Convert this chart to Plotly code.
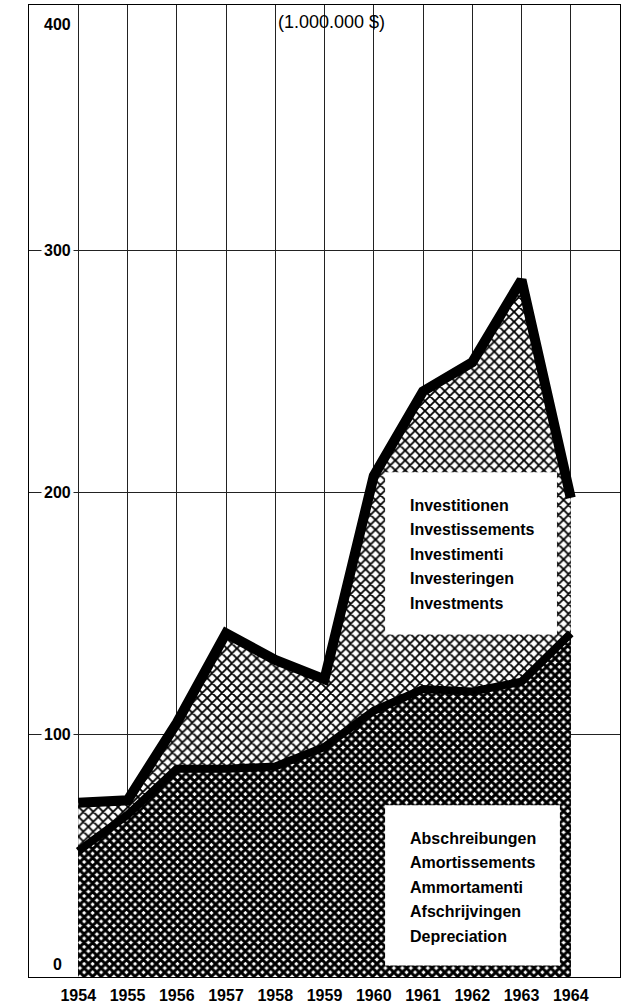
import plotly.graph_objects as go

years = [1954, 1955, 1956, 1957, 1958, 1959, 1960, 1961, 1962, 1963, 1964]
investments = [72, 73, 105, 142, 131, 123, 207, 242, 254, 288, 198]
depreciation = [52, 67, 86, 86, 87, 95, 110, 119, 118, 122, 142]

y_tick_values = [0, 100, 200, 300, 400]
y_tick_labels = ["0", "100", "200", "300", "400"]
x_tick_labels = [str(y) for y in years]

title_text = "(1.000.000 $)"
inv_labels = ["Investitionen", "Investissements", "Investimenti", "Investeringen", "Investments"]
dep_labels = ["Abschreibungen", "Amortissements", "Ammortamenti", "Afschrijvingen", "Depreciation"]

FONT = "Liberation Sans, Arial, sans-serif"

fig = go.Figure()

# depreciation area
fig.add_trace(go.Scatter(
    x=years, y=depreciation, mode="lines", line=dict(width=0, color="black"),
    fill="tozeroy", fillcolor="black",
    fillpattern=dict(shape="x", fgcolor="black", bgcolor="white", fgopacity=1,
                     size=6, solidity=0.75),
    hoverinfo="skip", showlegend=False))
# investments area (between the two lines)
fig.add_trace(go.Scatter(
    x=years, y=investments, mode="lines", line=dict(width=0, color="black"),
    fill="tonexty", fillcolor="black",
    fillpattern=dict(shape="x", fgcolor="black", bgcolor="white", fgopacity=1,
                     size=7, solidity=0.45),
    hoverinfo="skip", showlegend=False))
# thick lines
fig.add_trace(go.Scatter(x=years, y=depreciation, mode="lines",
                         line=dict(width=8, color="black"), hoverinfo="skip", showlegend=False))
fig.add_trace(go.Scatter(x=years, y=investments, mode="lines",
                         line=dict(width=10, color="black"), hoverinfo="skip", showlegend=False))

# white label boxes
fig.add_shape(type="rect", xref="x", yref="y", x0=1960.23, x1=1963.72, y0=141.5, y1=208.5,
              fillcolor="white", line=dict(width=0), layer="above")
fig.add_shape(type="rect", xref="x", yref="y", x0=1960.23, x1=1963.78, y0=4.8, y1=71,
              fillcolor="white", line=dict(width=0), layer="above")

step = 10.12
for i, t in enumerate(inv_labels):
    fig.add_annotation(x=1960.70, y=195 - i * step, xref="x", yref="y", text=t,
                       showarrow=False, xanchor="left", yanchor="middle",
                       font=dict(family=FONT, size=16, color="black", weight="bold"))
for i, t in enumerate(dep_labels):
    fig.add_annotation(x=1960.70, y=57.4 - i * step, xref="x", yref="y", text=t,
                       showarrow=False, xanchor="left", yanchor="middle",
                       font=dict(family=FONT, size=16, color="black", weight="bold"))

# y labels
label_y = {0: 5, 100: 100, 200: 200, 300: 300, 400: 393.5}
for v, t in zip(y_tick_values, y_tick_labels):
    fig.add_annotation(x=1953.58, y=label_y[v], xref="x", yref="y", text=t,
                       showarrow=False, xanchor="center", yanchor="middle",
                       bgcolor="white", borderpad=2,
                       font=dict(family=FONT, size=16, color="black", weight="bold"))

fig.add_annotation(x=1959.15, y=394.5, xref="x", yref="y", text=title_text,
                   showarrow=False, xanchor="center", yanchor="middle",
                   font=dict(family=FONT, size=18, color="black"))

fig.update_layout(
    width=630, height=1005,
    margin=dict(l=29, r=10, t=5, b=28, autoexpand=False),
    paper_bgcolor="white", plot_bgcolor="white",
    xaxis=dict(range=[1953, 1965], tickvals=years, ticktext=x_tick_labels,
               automargin=False,
               showgrid=True, gridcolor="#222", gridwidth=1,
               showline=True, mirror=True, linecolor="black", linewidth=1,
               zeroline=False, ticks="", ticklabelstandoff=4,
               tickfont=dict(family=FONT, size=16, color="black", weight="bold")),
    yaxis=dict(range=[0, 401.6], tickvals=[100, 200, 300], showticklabels=False,
               automargin=False,
               showgrid=True, gridcolor="#222", gridwidth=1,
               showline=True, mirror=True, linecolor="black", linewidth=1,
               zeroline=False, ticks=""),
)

fig.write_html("out.html", config={"displayModeBar": False},
               post_script="document.body.style.margin='0px';document.body.style.overflow='hidden';")
